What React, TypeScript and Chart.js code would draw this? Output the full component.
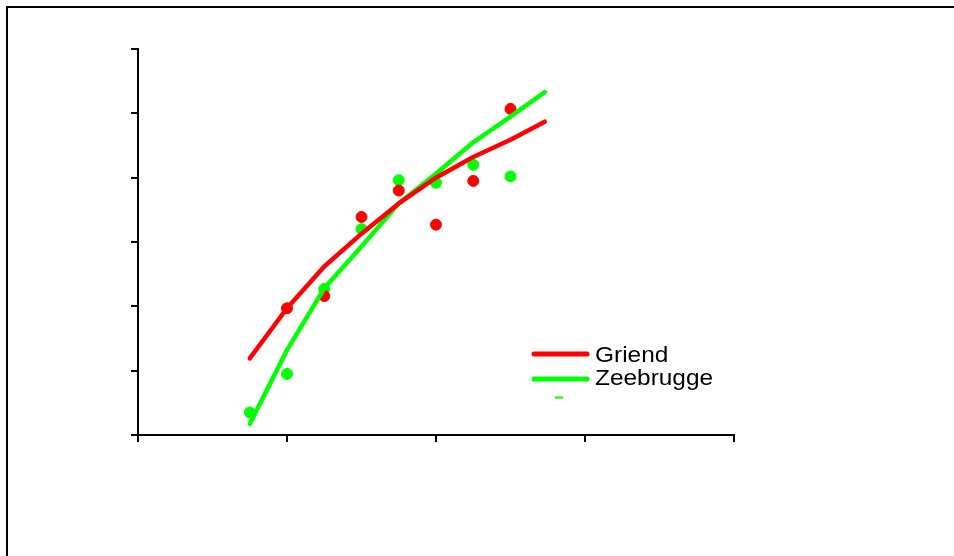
import React, { useEffect, useRef } from "react";
import { Chart, registerables } from "chart.js";

Chart.register(...registerables);

// Measured data (x in axis units 0..4, y in axis units 0..6)
const seriesNames = ["Griend", "Zeebrugge"];
const pointX = [0.75, 1.0, 1.25, 1.5, 1.75, 2.0, 2.25, 2.5];
const griendObsX = [1.0, 1.25, 1.5, 1.75, 2.0, 2.25, 2.5];
const griendObs = [1.97, 2.16, 3.39, 3.8, 3.27, 3.95, 5.07];
const zeebruggeObs = [0.35, 0.95, 2.27, 3.2, 3.96, 3.92, 4.2, 4.02];
const fitX = [0.75, 1.0, 1.25, 1.5, 1.75, 2.0, 2.25, 2.5, 2.73];
const griendFit = [1.19, 1.97, 2.62, 3.13, 3.6, 4.0, 4.32, 4.59, 4.87];
const zeebruggeFit = [0.17, 1.32, 2.28, 2.93, 3.6, 4.06, 4.55, 4.95, 5.33];
const xTicks = [0, 1, 2, 3, 4];
const yTicks = [0, 1, 2, 3, 4, 5, 6];

const RED = "#ff0000";
const GREEN = "#00ff00";

const legendPlugin = {
  id: "customLegend",
  afterDraw(chart: any) {
    const ctx = chart.ctx;
    ctx.save();
    ctx.lineCap = "round";
    ctx.lineWidth = 5;
    const items = [
      { name: seriesNames[0], color: RED, y: 354 },
      { name: seriesNames[1], color: GREEN, y: 379 },
    ];
    items.forEach((it) => {
      ctx.strokeStyle = it.color;
      ctx.beginPath();
      ctx.moveTo(534, it.y);
      ctx.lineTo(587, it.y);
      ctx.stroke();
    });
    ctx.fillStyle = "#000";
    ctx.font = '22px "Liberation Sans", Arial, sans-serif';
    ctx.textBaseline = "alphabetic";
    const baselines = [362, 385];
    items.forEach((it, i) => {
      ctx.save();
      ctx.translate(595, baselines[i]);
      ctx.scale(1.11, 1);
      ctx.fillText(it.name, 0, 0);
      ctx.restore();
    });
    // tiny stray marker
    ctx.strokeStyle = GREEN;
    ctx.lineWidth = 2;
    ctx.lineCap = "butt";
    ctx.beginPath();
    ctx.moveTo(555, 397.5);
    ctx.lineTo(563, 397.5);
    ctx.stroke();
    // outer frame
    ctx.strokeStyle = "#000";
    ctx.lineWidth = 2;
    ctx.beginPath();
    ctx.moveTo(7, 600);
    ctx.lineTo(7, 7);
    ctx.lineTo(1000, 7);
    ctx.stroke();
    ctx.restore();
  },
};

export default function App() {
  const ref = useRef<HTMLCanvasElement>(null);
  useEffect(() => {
    if (!ref.current) return;
    const toPts = (xs: number[], ys: number[]) => ys.map((y, i) => ({ x: xs[i], y }));
    const chart = new Chart(ref.current, {
      type: "scatter",
      data: {
        datasets: [
          {
            label: seriesNames[0] + " fit",
            data: toPts(fitX, griendFit),
            showLine: true,
            borderColor: RED,
            borderWidth: 4.5,
            pointRadius: 0,
            borderCapStyle: "round",
            borderJoinStyle: "round",
          } as any,
          {
            label: seriesNames[1] + " fit",
            data: toPts(fitX, zeebruggeFit),
            showLine: true,
            borderColor: GREEN,
            borderWidth: 4.5,
            pointRadius: 0,
            borderCapStyle: "round",
            borderJoinStyle: "round",
          } as any,
          {
            label: seriesNames[0],
            data: toPts(griendObsX, griendObs),
            showLine: false,
            backgroundColor: RED,
            borderColor: RED,
            borderWidth: 1,
            pointRadius: 5.5,
          },
          {
            label: seriesNames[1],
            data: toPts(pointX, zeebruggeObs),
            showLine: false,
            backgroundColor: GREEN,
            borderColor: GREEN,
            borderWidth: 1,
            pointRadius: 5.5,
          },
        ],
      },
      options: {
        animation: false,
        responsive: false,
        maintainAspectRatio: false,
        layout: { padding: { left: 131, top: 49, right: 220, bottom: 114 } },
        plugins: { legend: { display: false }, tooltip: { enabled: false } },
        scales: {
          x: {
            type: "linear",
            min: xTicks[0],
            max: xTicks[xTicks.length - 1],
            afterBuildTicks: (axis: any) => {
              axis.ticks = xTicks.map((v) => ({ value: v }));
            },
            ticks: { display: false },
            grid: { drawOnChartArea: false, drawTicks: true, tickLength: 7, color: "#000", lineWidth: 2 },
            border: { display: true, color: "#000", width: 2 },
          },
          y: {
            type: "linear",
            min: yTicks[0],
            max: yTicks[yTicks.length - 1],
            afterBuildTicks: (axis: any) => {
              axis.ticks = yTicks.map((v) => ({ value: v }));
            },
            ticks: { display: false },
            grid: { drawOnChartArea: false, drawTicks: true, tickLength: 7, color: "#000", lineWidth: 2 },
            border: { display: true, color: "#000", width: 2 },
          },
        },
      },
      plugins: [legendPlugin],
    });
    return () => chart.destroy();
  }, []);
  return (
    <div style={{ position: "absolute", left: 0, top: 0, width: 954, height: 556, background: "#fff" }}>
      <canvas ref={ref} width={954} height={556} style={{ width: 954, height: 556, display: "block" }} />
    </div>
  );
}
